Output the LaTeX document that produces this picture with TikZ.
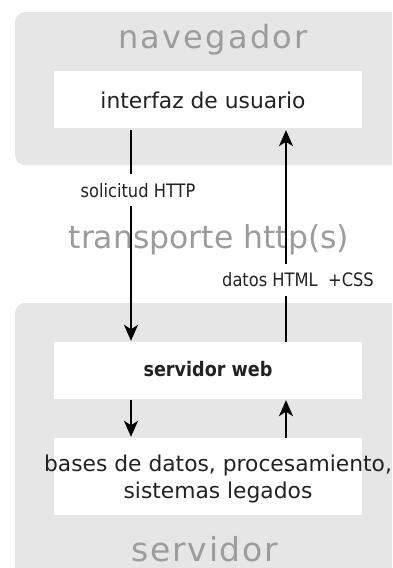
\documentclass[tikz,border=0pt]{standalone}
\usepackage{fontspec}
\setmainfont{DejaVu Sans}
\newfontfamily\condfont[FakeStretch=0.88]{DejaVu Sans}
\usetikzlibrary{arrows.meta}
\definecolor{panel}{HTML}{E6E6E6}
\definecolor{ghost}{HTML}{9C9C9C}
\definecolor{ink}{HTML}{222222}
\tikzset{
  panelbox/.style={fill=panel, rounded corners=10pt, draw=none},
  whitebox/.style={fill=white, draw=none, minimum width=308pt, inner sep=0pt},
  bigtitle/.style={text=ghost, font=\fontsize{31.5}{36}\selectfont, inner sep=0pt},
  boxtext/.style={text=ink, font=\fontsize{21.8}{27}\selectfont, inner sep=0pt, align=center},
  lbl/.style={fill=white, text=ink, font=\condfont\fontsize{18.5}{20}\selectfont, inner xsep=2pt, inner ysep=9pt},
  arr/.style={draw=black, line width=2.2pt, -{Stealth[length=16pt, width=14pt, inset=4.5pt]}},
}
\begin{document}
\begin{tikzpicture}[x=1pt, y=-1pt]
\useasboundingbox (0,0) rectangle (392,568);
\fill[white] (0,0) rectangle (392,568);
\begin{scope}
\clip (0,0) rectangle (392,568);
\path[panelbox] (15,12) rectangle (410,165);
\path[panelbox] (15,303) rectangle (410,590);
\end{scope}
\node[bigtitle, font=\addfontfeature{LetterSpace=7}\fontsize{32}{36}\selectfont] (nav) at (213,40) {navegador};
\node[whitebox, minimum height=57pt] (ui) at (208,99.5) {};
\node[boxtext] (uit) at (203,100) {interfaz de usuario};
\node[bigtitle] (trans) at (209,240) {transporte http(s)};
\node[whitebox, minimum height=57pt] (web) at (208,370.5) {};
\node[boxtext, font=\condfont\bfseries\fontsize{20}{24}\selectfont] (webt) at (208,369) {servidor web};
\node[whitebox, minimum height=77pt] (db) at (208,476.5) {};
\node[boxtext] (dbt) at (218,479) {bases de datos, procesamiento,\\sistemas legados};
\node[bigtitle, font=\addfontfeature{LetterSpace=5}\fontsize{33}{36}\selectfont] (srv) at (205,549) {servidor};
\coordinate (L) at (131,0);
\coordinate (R) at (286,0);
\draw[arr, shorten <=2pt, shorten >=1pt] (ui.south -| L) -- (web.north -| L)
  node[lbl, pos=0.29, xshift=7pt] (req) {solicitud HTTP};
\draw[arr, shorten >=2pt] (web.north -| R) -- (ui.south -| R)
  node[lbl, pos=0.29, xshift=12pt] (resp) {datos HTML\ \ +CSS};
\draw[arr, shorten <=1pt, shorten >=1pt] (web.south -| L) -- (db.north -| L);
\draw[arr, shorten >=1pt] (db.north -| R) -- (web.south -| R);
\end{tikzpicture}
\end{document}
